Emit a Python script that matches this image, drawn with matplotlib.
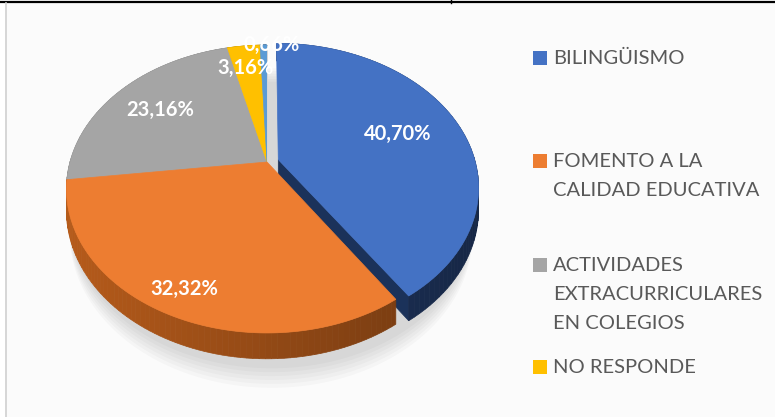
import numpy as np
import matplotlib
matplotlib.use("Agg")
import matplotlib.pyplot as plt
from matplotlib.patches import Polygon, Rectangle
from matplotlib.colors import to_rgb

# ---- data ----
categories = ["BILINGÜISMO", "FOMENTO A LA\nCALIDAD EDUCATIVA",
              "ACTIVIDADES\nEXTRACURRICULARES\nEN COLEGIOS", "NO RESPONDE", ""]
values = [40.70, 32.32, 23.16, 3.16, 0.66]
labels = ["40,70%", "32,32%", "23,16%", "3,16%", "0,66%"]
legend_count = 4

# ---- style ----
top_colors = ["#4472C4", "#ED7D31", "#A5A5A5", "#FFC000", "#5B9BD5"]
side_colors = ["#203864", "#9E4F17", "#6E6E6E", "#B38600", "#3F6E99"]
explode = [0.06, 0, 0, 0, 0]
label_r = [0.66, 0.86, 0.71, 0.78, 1.0]
label_dx = [0, 0, 0, -3, 8]

plt.rcParams['hatch.color'] = '#ececec'
plt.rcParams['hatch.linewidth'] = 0.8

fig = plt.figure(figsize=(7.75, 4.17), dpi=100)
ax = fig.add_axes([0, 0, 1, 1])
ax.set_xlim(0, 775)
ax.set_ylim(417, 0)
ax.axis('off')

# background
ax.add_patch(Rectangle((6, 3), 769, 414, facecolor='#fbfbfb', edgecolor='none',
                       hatch='//////', zorder=0))
ax.plot([0, 775], [2, 2], color='black', lw=1.6, zorder=1)
ax.plot([451, 451], [0, 3], color='black', lw=1.0, zorder=1)
ax.plot([6, 6], [3, 417], color='#d0d0d0', lw=1.2, zorder=1)

# projection of 3D pie
cx, cy = 267.0, 162.0
A, B, K, D = 138.9, 197.0, 0.1875, 21.0


def proj(u, v, z):
    s = 1.0 / (1.0 + K * v)
    return cx + B * u * s, cy - A * v * s + D * z * s


def arc(t0, t1, off, z, n=120):
    t = np.linspace(t0, t1, n)
    u = np.cos(t) + off[0]
    v = np.sin(t) + off[1]
    x, y = proj(u, v, z)
    return np.column_stack([x, y])


def shade(c, f):
    r, g, b = to_rgb(c)
    return (min(1, r * f), min(1, g * f), min(1, b * f))


# angles (clockwise from 12 o'clock)
vals = np.array(values)
fr = vals / vals.sum()
cum = np.concatenate([[0], np.cumsum(fr)])
starts = np.deg2rad(90 - 360 * cum[:-1])
ends = np.deg2rad(90 - 360 * cum[1:])
mids = (starts + ends) / 2
offs = [(explode[i] * np.cos(mids[i]), explode[i] * np.sin(mids[i])) for i in range(len(vals))]


def draw_side(i, z0):
    t = np.linspace(starts[i], ends[i], 80)
    for a0, a1 in zip(t[:-1], t[1:]):
        top = arc(a0, a1, offs[i], 0, 3)
        bot = arc(a1, a0, offs[i], 1, 3)
        xm = np.mean(top[:, 0])
        f = 1.15 - 0.45 * (xm - 65) / 410
        ax.add_patch(Polygon(np.vstack([top, bot]), closed=True,
                             facecolor=shade(side_colors[i], f),
                             edgecolor=shade(side_colors[i], f), lw=0.5, zorder=z0))


def draw_top(i, z0):
    o = offs[i]
    c = proj(o[0], o[1], 0)
    pts = np.vstack([[c], arc(starts[i], ends[i], o, 0)])
    ax.add_patch(Polygon(pts, closed=True, facecolor=top_colors[i],
                         edgecolor=top_colors[i], lw=0.5, zorder=z0))


def draw_radial(i, ang, color, z0):
    o = offs[i]
    c0 = proj(o[0], o[1], 0)
    c1 = proj(o[0], o[1], 1)
    r0 = proj(np.cos(ang) + o[0], np.sin(ang) + o[1], 0)
    r1 = proj(np.cos(ang) + o[0], np.sin(ang) + o[1], 1)
    ax.add_patch(Polygon([c0, r0, r1, c1], closed=True, facecolor=color,
                         edgecolor=color, lw=0.5, zorder=z0))


# soft shadow
for k in range(6):
    sh = arc(0, 2 * np.pi, (0.02, -0.02), 1.2 + 0.15 * k, 200)
    ax.add_patch(Polygon(sh, closed=True, facecolor='black', alpha=0.025,
                         edgecolor='none', zorder=2))

# back slices
for i in [2, 3, 4]:
    draw_side(i, 3)
for i in [2, 3, 4]:
    draw_top(i, 4)
# gap face behind the exploded slice
draw_radial(4, ends[4], '#d4d4d4', 4.5)
# exploded slice
draw_radial(0, ends[0], '#1B325A', 5)
draw_side(0, 6)
draw_top(0, 7)
# front slice
draw_side(1, 8)
draw_top(1, 9)

# labels
clip = Rectangle((0, 40), 775, 400, transform=ax.transData)
for i, lab in enumerate(labels):
    o = offs[i]
    r = label_r[i]
    x, y = proj(r * np.cos(mids[i]) + o[0], r * np.sin(mids[i]) + o[1], 0)
    t = ax.text(x + label_dx[i], y, lab, color='white', fontsize=14.5, fontweight='bold',
                family=['Lato', 'DejaVu Sans'], ha='center', va='center', zorder=20)
    t.set_clip_path(clip)

# legend
leg_y = [58, 161, 265, 367]
for i in range(legend_count):
    ax.add_patch(Rectangle((533, leg_y[i] - 7), 14, 14, facecolor=top_colors[i],
                           edgecolor='none', zorder=20))
    ax.text(553, leg_y[i] - 8, categories[i], color='#595959', fontsize=14.5,
            family=['Lato', 'DejaVu Sans'], ha='left', va='top',
            linespacing=1.85, zorder=20)

fig.savefig('out.png', dpi=100)
